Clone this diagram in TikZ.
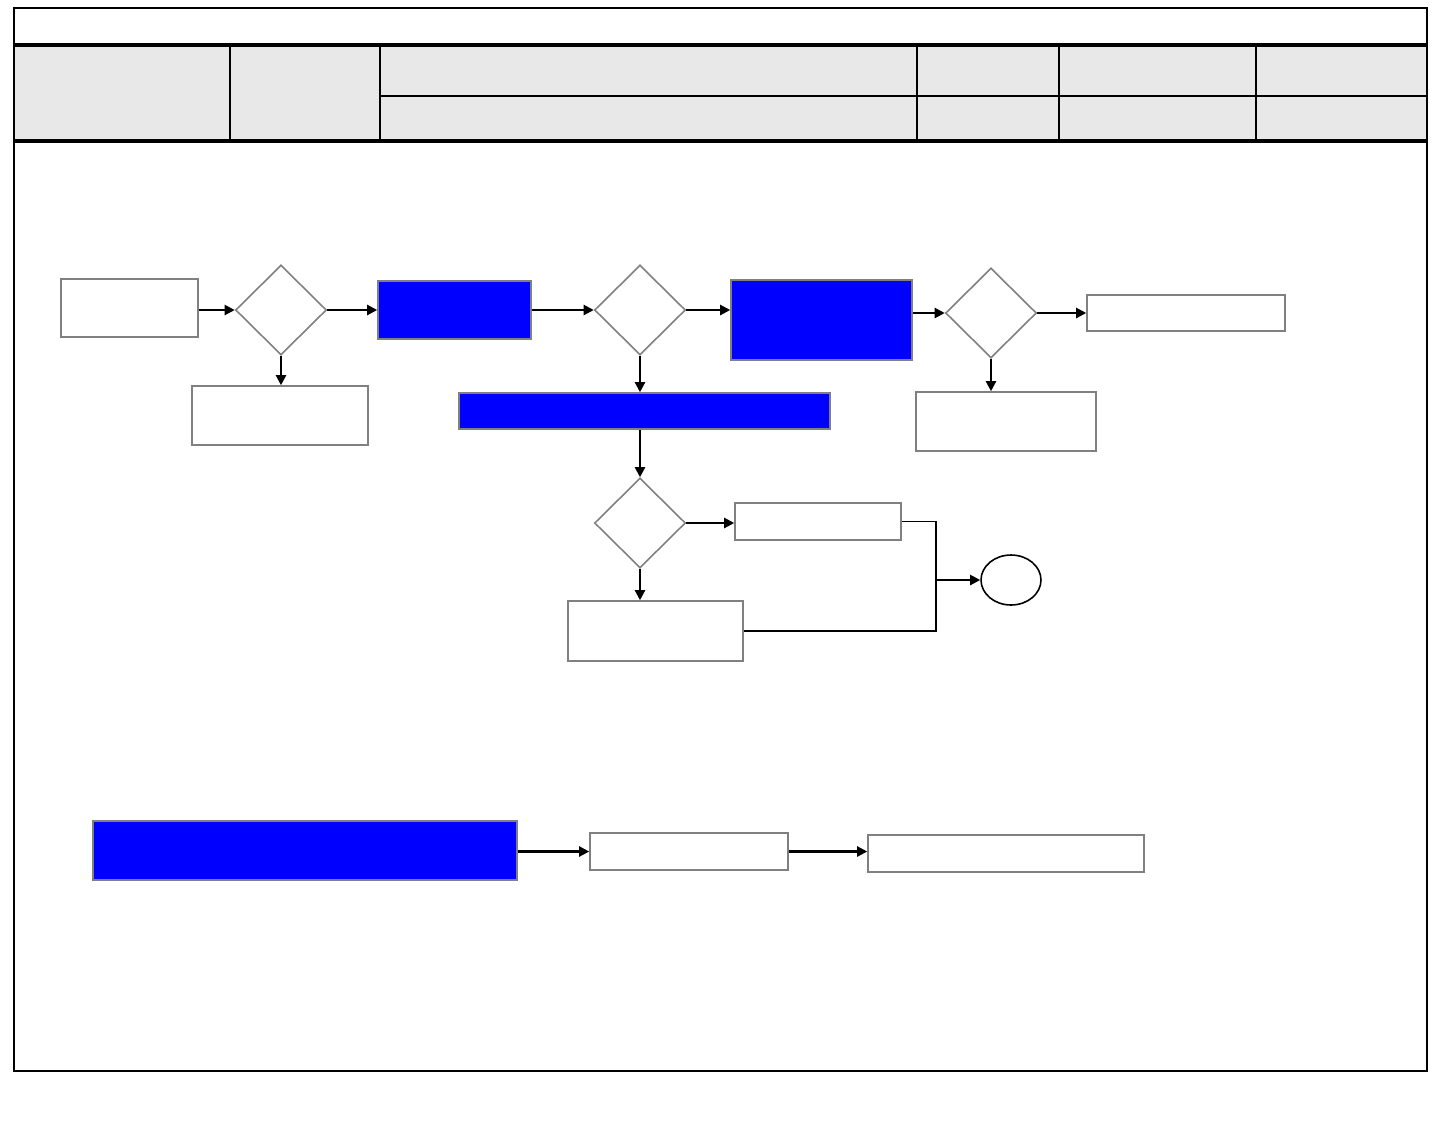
\documentclass[tikz,border=0pt]{standalone}
\usepackage{tikz}
\usetikzlibrary{shapes.geometric, positioning, calc, arrows.meta}
\definecolor{boxGray}{HTML}{808080}
\definecolor{headGray}{HTML}{E8E8E8}
\definecolor{flowBlueFill}{HTML}{0000FF}
\tikzset{
  flowBox/.style={rectangle, draw=boxGray, fill=white, line width=0.9pt, inner sep=0pt},
  flowBlue/.style={rectangle, draw=boxGray, fill=flowBlueFill, line width=0.9pt, inner sep=0pt},
  flowDec/.style={diamond, draw=boxGray, fill=white, line width=0.9pt, inner sep=0pt, minimum width=1.82cm, minimum height=1.8cm},
  flowEnd/.style={ellipse, draw=black, line width=0.9pt, inner sep=0pt, minimum width=1.2cm, minimum height=1cm},
  flowArr/.style={line width=1.2pt, -{Triangle[length=0.2cm, width=0.2cm]}},
  flowLine/.style={line width=0.9pt},
}

\begin{document}
\begin{tikzpicture}[x=0.02cm, y=-0.02cm]
\useasboundingbox (0,0) rectangle (1440,1137);
% header table
\fill[headGray] (14,45) rectangle (1427,141);
\draw[line width=1.2pt] (14,8) rectangle (1427,1071);
\draw[line width=1.8pt] (14,45) -- (1427,45);
\draw[line width=1.8pt] (14,141) -- (1427,141);
\draw[line width=1.1pt] (380,96) -- (1427,96);
\foreach \xs in {230,380,917,1059,1256}
  \draw[line width=1.1pt] (\xs,45) -- (\xs,141);

% upper flow
\node (input) [flowBox, minimum width=2.74cm, minimum height=1.16cm] at (129.5,308) {};
\node (chkA) [flowDec] at (281,310) {};
\node (failA) [flowBox, minimum width=3.52cm, minimum height=1.18cm] at (280,415.5) {};
\node (procA) [flowBlue, minimum width=3.06cm, minimum height=1.16cm] at (454.5,310) {};
\node (chkB) [flowDec] at (640,310) {};
\node (procB) [flowBlue, minimum width=3.62cm, minimum height=1.6cm] at (821.5,320) {};
\node (chkC) [flowDec] at (991,313) {};
\node (passC) [flowBox, minimum width=3.96cm, minimum height=0.72cm] at (1186,313) {};
\node (failC) [flowBox, minimum width=3.6cm, minimum height=1.18cm] at (1006,421.5) {};
\node (procC) [flowBlue, minimum width=7.42cm, minimum height=0.72cm] at (644.5,411) {};
\node (chkD) [flowDec] at (640,523) {};
\node (passD) [flowBox, minimum width=3.32cm, minimum height=0.74cm] at (818,521.5) {};
\node (failD) [flowBox, minimum width=3.5cm, minimum height=1.2cm] at (655.5,631) {};
\node (done) [flowEnd] at (1011,580) {};
\coordinate (merge) at (936,580);

% lower flow
\node (procL) [flowBlue, minimum width=8.48cm, minimum height=1.18cm] at (305,850.5) {};
\node (stepM) [flowBox, minimum width=3.96cm, minimum height=0.74cm] at (689,851.5) {};
\node (stepN) [flowBox, minimum width=5.52cm, minimum height=0.74cm] at (1006,853.5) {};

\draw [flowArr] (input.east |- chkA.west) -- (chkA.west);
\draw [flowArr] (chkA.east) -- (chkA.east -| procA.west);
\draw [flowArr] (chkA.south) -- (chkA.south |- failA.north);
\draw [flowArr] (procA.east) -- (chkB.west);
\draw [flowArr] (chkB.east) -- (chkB.east -| procB.west);
\draw [flowArr] (chkB.south) -- (chkB.south |- procC.north);
\draw [flowArr] (procB.east |- chkC.west) -- (chkC.west);
\draw [flowArr] (chkC.east) -- (passC.west);
\draw [flowArr] (chkC.south) -- (chkC.south |- failC.north);
\draw [flowArr] (procC.south -| chkD.north) -- (chkD.north);
\draw [flowArr] (chkD.east) -- (chkD.east -| passD.west);
\draw [flowArr] (chkD.south) -- (chkD.south |- failD.north);
\draw [flowLine] (passD.east) -| (merge) |- (failD.east);
\draw [flowArr] (merge) -- (done.west);
\draw [flowArr] (procL.east |- stepM.west) -- (stepM.west);
\draw [flowArr] (stepM.east) -- (stepM.east -| stepN.west);
\end{tikzpicture}
\end{document}
